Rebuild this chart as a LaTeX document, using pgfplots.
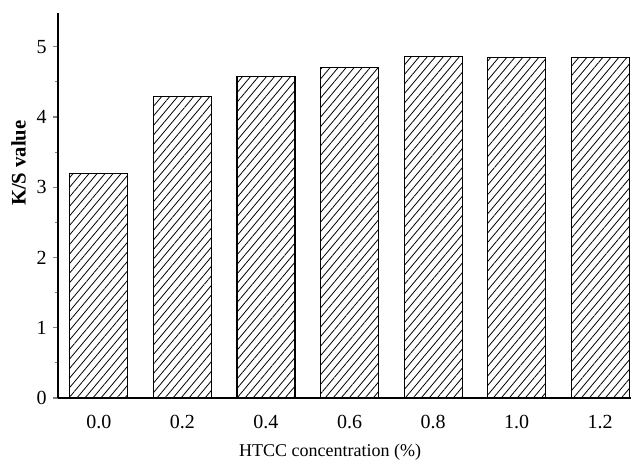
\documentclass[border=0pt]{standalone}
\usepackage{pgfplots}
\pgfplotsset{compat=1.18}
\usepackage{fontspec}
\setmainfont{Liberation Serif}
\usetikzlibrary{patterns.meta}
\begin{document}
\begin{tikzpicture}
\useasboundingbox (-43.5pt,-47.25pt) rectangle (429.75pt,298.5pt);
\begin{axis}[
  scale only axis,
  width=429.75pt, height=288.75pt,
  at={(0,0)}, anchor=south west,
  axis x line=bottom, axis y line=left,
  axis line style={-, line width=0.9pt},
  xmin=-0.49, xmax=6.37, ymin=0, ymax=5.48,
  xtick={0,1,2,3,4,5,6},
  xticklabels={0.0,0.2,0.4,0.6,0.8,1.0,1.2},
  x tick style={draw=none},
  ytick={0,1,2,3,4,5},
  minor y tick num=1,
  tick align=outside,
  major tick length=4pt, minor tick length=2.5pt,
  y tick style={line width=0.8pt},
  ticklabel style={font=\fontsize{15}{17}\selectfont},
  /pgf/number format/assume math mode=true,
  yticklabel style={xshift=-1pt},
  xticklabel style={anchor=base, yshift=-18.75pt},
  xlabel={HTCC concentration (\%)},
  ylabel={K/S value},
  xlabel style={font=\fontsize{13.5}{15}\selectfont, at={(axis description cs:0.475,0)}, anchor=base, yshift=-44pt},
  ylabel style={font=\fontsize{15.5}{17}\selectfont\bfseries, at={(axis description cs:0,0.61)}, anchor=center, yshift=29.6pt},
]
\addplot[ybar, bar width=43.5pt, draw=black, line width=0.8pt, fill=white,
  postaction={pattern={Lines[angle=50, distance=4.6pt, line width=0.6pt]}}]
  coordinates {(0,3.19) (1,4.29) (2,4.57) (3,4.71) (4,4.86) (5,4.84) (6,4.84)};
\end{axis}
\end{tikzpicture}
\end{document}
